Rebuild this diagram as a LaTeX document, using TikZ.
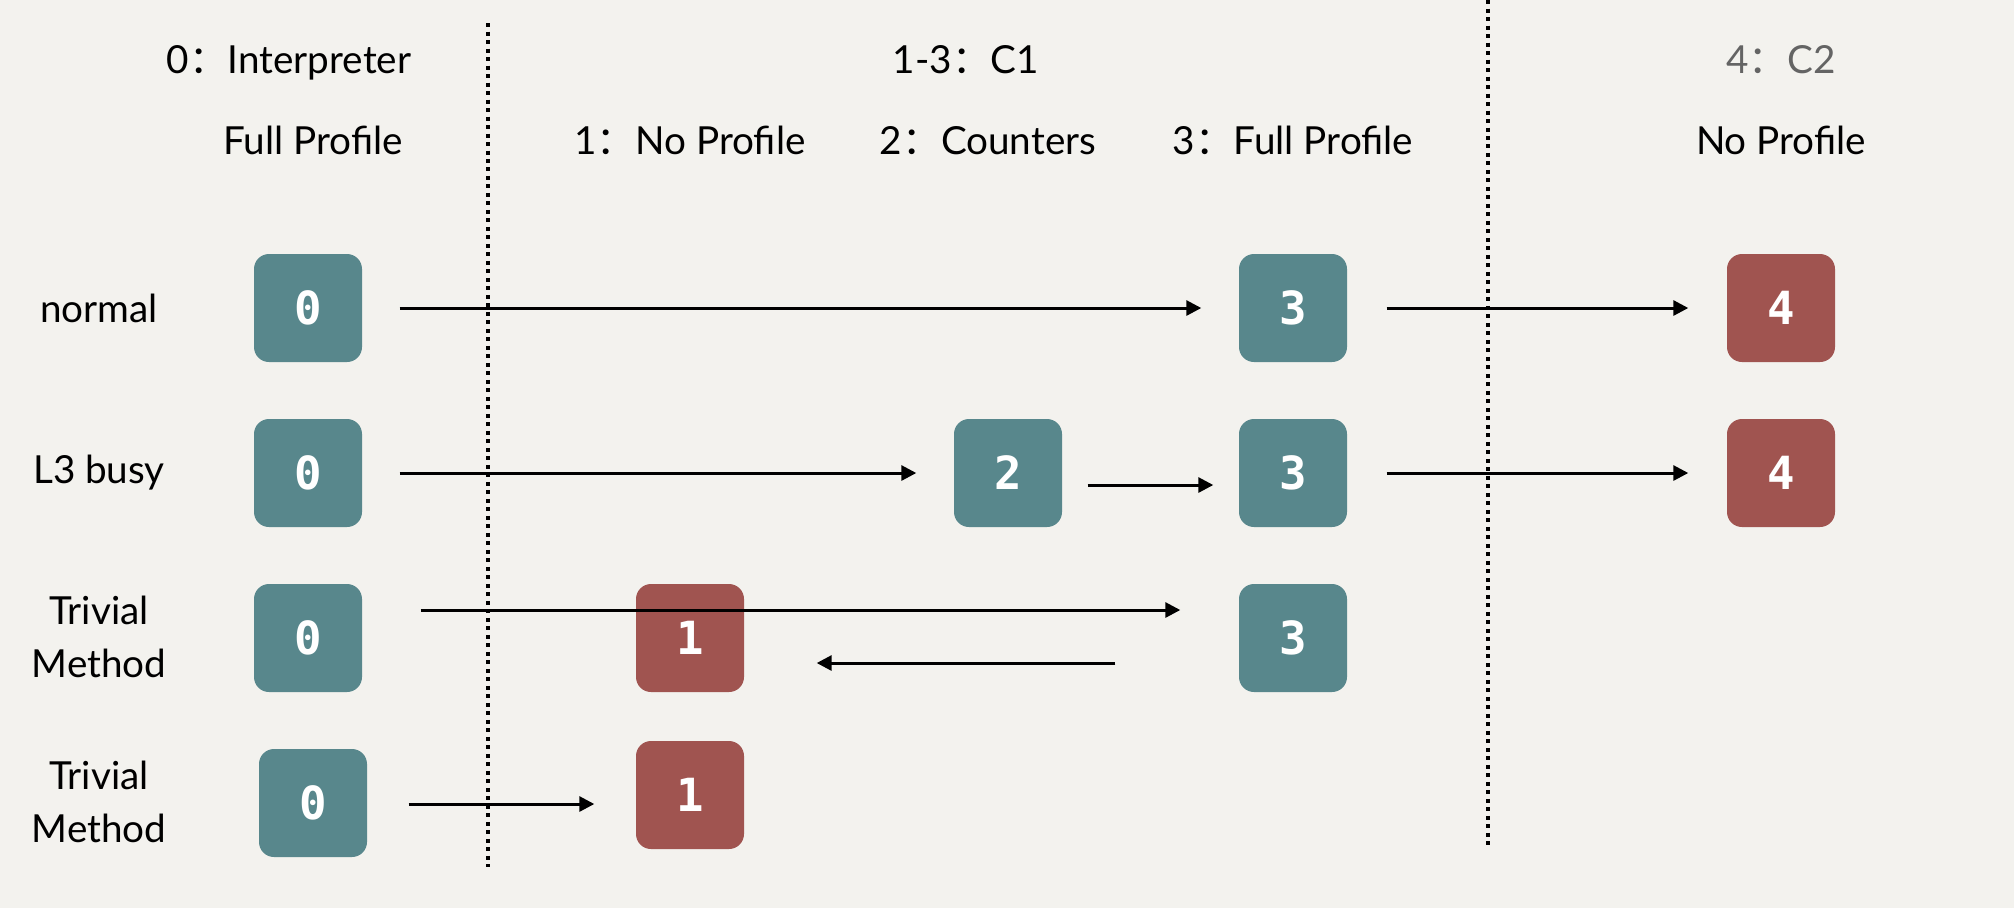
\documentclass[tikz,border=0pt]{standalone}
\usepackage{fontspec}
\setmainfont{Lato}
\newfontfamily\cjk{Noto Sans CJK SC}
\newfontfamily\boxfont{DejaVu Sans Mono}
\usetikzlibrary{arrows.meta}
\definecolor{paper}{RGB}{243,242,238}
\definecolor{tealbox}{RGB}{88,135,140}
\definecolor{redbox}{RGB}{160,84,80}
\definecolor{headgray}{RGB}{100,100,100}
\newcommand{\fc}{{\cjk ：}}

\begin{document}
\begin{tikzpicture}[
    tier/.style={rounded corners=0.15cm, minimum size=1.08cm, inner sep=0pt,
        text=white, font=\boxfont\bfseries\fontsize{13}{13}\selectfont},
    interp/.style={tier, fill=tealbox},
    comp/.style={tier, fill=redbox},
    head/.style={anchor=base, font=\fontsize{11}{13}\selectfont},
    rowlabel/.style={align=center, font=\fontsize{11}{15}\selectfont},
    flow/.style={-{Triangle[length=0.15cm,width=0.15cm]}, line width=0.03cm},
    sep/.style={line width=0.04cm, dash pattern=on 0.04cm off 0.045cm}
    ]
    % background
    \fill[paper] (0,0) rectangle (20.14,-9.08);
    \useasboundingbox (0,0) rectangle (20.14,-9.08);
    % Draw the separators
    \draw[sep] (4.88,-0.23) -- (4.88,-8.67);
    \draw[sep] (14.88,0) -- (14.88,-8.48);
    % Headers
    \node[head] (hinterp) at (2.89,-0.73) {0\fc Interpreter};
    \node[head] (hfull) at (3.13,-1.54) {Full Profile};
    \node[head] (hcone) at (9.66,-0.73) {1-3\fc C1};
    \node[head] (hnoprof) at (6.90,-1.54) {1\fc No Profile};
    \node[head] (hcount) at (9.88,-1.54) {2\fc Counters};
    \node[head] (hfullc) at (12.93,-1.54) {3\fc Full Profile};
    \node[head, text=headgray] (hctwo) at (17.81,-0.73) {4\fc C2};
    \node[head] (hnoc) at (17.81,-1.54) {No Profile};
    % Row labels
    \node[rowlabel] (lnormal) at (0.99,-3.08) {normal};
    \node[rowlabel] (lbusy) at (0.99,-4.73) {L3 busy};
    \node[rowlabel] (ltriv) at (0.99,-6.37) {Trivial\\Method};
    \node[rowlabel] (ltrivb) at (0.99,-8.02) {Trivial\\Method};
    % Row 1: normal
    \node[interp] (a0) at (3.08,-3.08) {0};
    \node[interp] (a3) at (12.93,-3.08) {3};
    \node[comp] (a4) at (17.81,-3.08) {4};
    \draw[flow, shorten <=0.37cm, shorten >=0.37cm] (a0) -- (a3);
    \draw[flow, shorten <=0.39cm, shorten >=0.38cm] (a3) -- (a4);
    % Row 2: L3 busy
    \node[interp] (b0) at (3.08,-4.73) {0};
    \node[interp] (b2) at (10.08,-4.73) {2};
    \node[interp] (b3) at (12.93,-4.73) {3};
    \node[comp] (b4) at (17.81,-4.73) {4};
    \draw[flow, shorten <=0.37cm, shorten >=0.37cm] (b0) -- (b2);
    \draw[flow, shorten <=0.25cm, shorten >=0.25cm] ([yshift=-0.12cm]b2.east) -- ([yshift=-0.12cm]b3.west);
    \draw[flow, shorten <=0.39cm, shorten >=0.38cm] (b3) -- (b4);
    % Row 3: trivial method
    \node[interp] (c0) at (3.08,-6.38) {0};
    \node[comp] (c1) at (6.90,-6.38) {1};
    \node[interp] (c3) at (12.93,-6.38) {3};
    \draw[flow, shorten <=0.58cm, shorten >=0.58cm] ([yshift=0.28cm]c0.east) -- ([yshift=0.28cm]c3.west);
    \draw[flow, shorten <=1.23cm, shorten >=0.72cm] ([yshift=-0.25cm]c3.west) -- ([yshift=-0.25cm]c1.east);
    % Row 4: trivial method
    \node[interp] (d0) at (3.13,-8.03) {0};
    \node[comp] (d1) at (6.90,-7.95) {1};
    \draw[flow, shorten <=0.41cm, shorten >=0.41cm] (d0.east |- 0,-8.04) -- (d1.west |- 0,-8.04);
\end{tikzpicture}
\end{document}
